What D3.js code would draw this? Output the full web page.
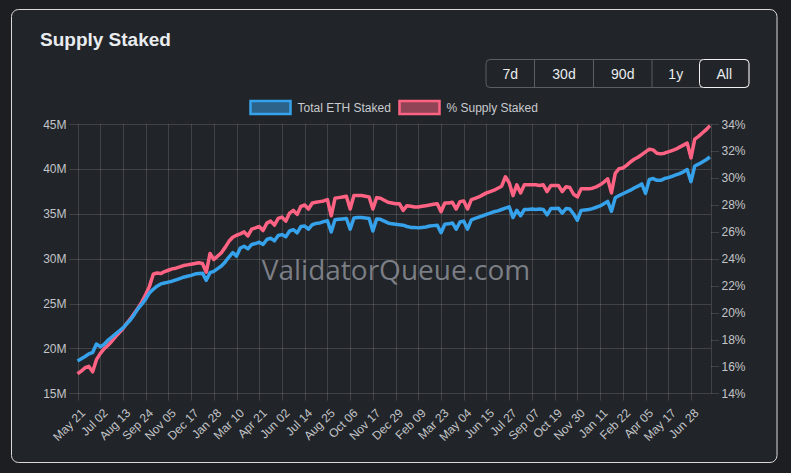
<!DOCTYPE html>
<html><head><meta charset="utf-8">
<script src="https://cdn.jsdelivr.net/npm/d3@7"></script>
<style>
html,body{margin:0;padding:0;background:#1c1e21;}
svg{display:block;}
</style></head><body>
<svg id="c" width="791" height="473"></svg>
<script>
// ---- data ----
const startDate = "2023-05-21";
const stepDays = 7;          // one value per week
const tickStepDays = 42;     // one x label every 42 days
const lastDay = 1171;
const seriesNames = ["Total ETH Staked", "% Supply Staked"];
const xTickLabels = ["May 21","Jul 02","Aug 13","Sep 24","Nov 05","Dec 17","Jan 28","Mar 10","Apr 21","Jun 02","Jul 14","Aug 25","Oct 06","Nov 17","Dec 29","Feb 09","Mar 23","May 04","Jun 15","Jul 27","Sep 07","Oct 19","Nov 30","Jan 11","Feb 22","Apr 05","May 17","Jun 28"];
const leftTicks = [15,20,25,30,35,40,45];
const rightTicks = [14,16,18,20,22,24,26,28,30,32,34];
const buttons = ["7d","30d","90d","1y","All"];
const ethStaked = [
18.6,18.85,19.1,19.4,19.55,20.5,20.2,20.45,20.9,21.25,
21.6,21.95,22.3,22.75,23.2,23.8,24.45,24.95,25.5,26.2,
26.6,26.95,27.2,27.3,27.4,27.5,27.65,27.8,27.95,28.05,
28.15,28.3,28.35,28.4,27.6,28.45,28.6,28.9,29.2,29.65,
30.2,30.7,30.3,31.2,31.4,31.1,31.6,31.7,31.85,31.6,
32.15,32.3,32.0,32.6,32.7,32.45,33.1,33.25,32.9,33.6,
33.65,33.3,33.8,33.95,34.0,34.15,34.25,33.0,34.35,34.4,
34.45,34.5,33.3,34.55,34.6,34.6,34.55,34.5,33.1,34.45,
34.4,34.2,34.0,33.9,33.85,33.8,33.75,33.6,33.5,33.5,
33.45,33.5,33.55,33.65,33.7,33.75,32.9,33.85,33.9,34.0,
33.3,34.1,34.2,33.3,34.35,34.5,34.65,34.8,34.95,35.1,
35.25,35.35,35.5,35.65,35.8,34.6,35.4,34.8,35.5,35.5,
35.55,35.5,35.55,35.5,34.9,35.6,35.6,35.65,35.1,35.6,
35.55,35.0,34.3,35.4,35.45,35.5,35.6,35.75,35.9,36.15,
36.4,35.3,36.8,37.05,37.25,37.45,37.65,37.9,38.1,38.35,
37.3,38.85,38.95,38.75,38.75,38.95,39.05,39.2,39.35,39.5,
39.7,39.95,38.6,40.35,40.55,40.8,41.05,41.35];
const supplyPct = [
15.45,15.65,15.9,16.0,15.6,16.5,16.95,17.3,17.55,17.85,
18.2,18.5,18.8,19.2,19.55,19.95,20.35,20.8,21.35,21.95,
22.85,22.95,22.9,23.05,23.15,23.25,23.3,23.4,23.5,23.55,
23.6,23.65,23.7,23.65,23.0,24.4,23.95,24.2,24.45,24.85,
25.3,25.6,25.75,25.85,26.0,25.7,26.2,26.3,26.4,26.1,
26.65,26.8,26.5,27.0,27.1,26.8,27.4,27.6,27.3,27.9,
28.0,27.7,28.15,28.2,28.25,28.3,28.4,27.2,28.5,28.55,
28.6,28.65,27.7,28.7,28.7,28.7,28.65,28.6,27.7,28.55,
28.5,28.35,28.2,28.15,28.1,28.1,27.6,27.95,27.9,27.85,
27.85,27.9,27.95,28.0,28.05,28.1,27.5,28.15,28.15,28.2,
27.7,28.25,28.3,27.7,28.4,28.5,28.6,28.75,28.9,29.0,
29.1,29.25,29.4,30.1,29.65,28.7,29.5,28.9,29.5,29.5,
29.5,29.5,29.45,29.5,29.0,29.45,29.45,29.45,29.0,29.35,
29.3,28.8,28.6,29.2,29.2,29.2,29.25,29.35,29.5,29.7,
29.95,28.9,30.35,30.7,30.75,30.95,31.2,31.4,31.55,31.75,
31.95,32.15,32.1,31.85,31.8,31.85,31.95,32.05,32.15,32.3,
32.45,32.6,31.5,32.9,33.1,33.35,33.6,33.9];

// ---- drawing ----
const FONT = "'Liberation Sans', Arial, sans-serif";
const svg = d3.select("#c");
const start = d3.utcParse("%Y-%m-%d")(startDate);
const dayOff = n => d3.utcDay.offset(start, n);

const plot = {left: 77.5, right: 711, top: 124.3, bottom: 393.3};
const x = d3.scaleUtc().domain([start, dayOff(lastDay)]).range([plot.left, plot.right]);
const yL = d3.scaleLinear().domain([15, 45]).range([plot.bottom, plot.top]);
const yR = d3.scaleLinear().domain([14, 34]).range([plot.bottom, plot.top]);

// card
svg.append("rect").attr("x",11.5).attr("y",9.5).attr("width",765.5).attr("height",453)
  .attr("rx",7).attr("fill","#212428").attr("stroke","#d8d8d8").attr("stroke-width",1);

svg.append("text").attr("x",40).attr("y",46).text("Supply Staked")
  .attr("font-family",FONT).attr("font-size",19).attr("font-weight","bold").attr("fill","#e9ecef");

// range buttons
const bx = d3.scaleOrdinal().domain(buttons).range([486, 534.5, 593.5, 652, 699.5]);
const bw = d3.scaleOrdinal().domain(buttons).range([48.5, 59, 58.5, 47.5, 49.5]);
const bg = svg.append("g");
bg.append("rect").attr("x",486).attr("y",59.5).attr("width",263).attr("height",28).attr("rx",4)
  .attr("fill","none").attr("stroke","#5b5f64");
buttons.forEach((b,i)=>{
  if(i>0 && b!=="All") bg.append("line").attr("x1",bx(b)).attr("x2",bx(b)).attr("y1",59.5).attr("y2",87.5).attr("stroke","#5b5f64");
  if(b==="All") bg.append("rect").attr("x",bx(b)).attr("y",59.5).attr("width",bw(b)).attr("height",28).attr("rx",4)
     .attr("fill","none").attr("stroke","#f0f0f0");
  bg.append("text").attr("x",bx(b)+bw(b)/2).attr("y",78.5).attr("text-anchor","middle").text(b)
    .attr("font-family",FONT).attr("font-size",14).attr("fill","#e9ecef");
});

// legend
const colors = ["#36a2eb","#ff6384"];
const fills = ["rgba(54,162,235,0.5)","rgba(255,99,132,0.5)"];
const legX = [250.5, 399.5];
seriesNames.forEach((n,i)=>{
  svg.append("rect").attr("x",legX[i]).attr("y",101).attr("width",40).attr("height",13)
    .attr("fill",fills[i]).attr("stroke",colors[i]).attr("stroke-width",2.5);
  svg.append("text").attr("x",legX[i]+47).attr("y",111.5).text(n)
    .attr("font-family",FONT).attr("font-size",12).attr("fill","#c9cbcf");
});

const gridColor = "rgba(255,255,255,0.14)";
const txtColor = "#c3c5c8";

// vertical grid + x tick marks
const xTicks = xTickLabels.map((l,i)=>dayOff(i*tickStepDays));
svg.append("g").selectAll("line").data(xTicks).join("line")
  .attr("x1",d=>Math.round(x(d))+0.5).attr("x2",d=>Math.round(x(d))+0.5)
  .attr("y1",plot.top).attr("y2",400.5).attr("stroke",gridColor);
// horizontal grid + left tick marks
svg.append("g").selectAll("line").data(leftTicks).join("line")
  .attr("x1",69.5).attr("x2",plot.right)
  .attr("y1",d=>Math.round(yL(d))+0.5).attr("y2",d=>Math.round(yL(d))+0.5).attr("stroke",gridColor);
// right axis line + ticks
svg.append("line").attr("x1",plot.right+0.5).attr("x2",plot.right+0.5).attr("y1",plot.top).attr("y2",plot.bottom)
  .attr("stroke",gridColor);
svg.append("g").selectAll("line").data(rightTicks).join("line")
  .attr("x1",plot.right).attr("x2",plot.right+8)
  .attr("y1",d=>Math.round(yR(d))+0.5).attr("y2",d=>Math.round(yR(d))+0.5).attr("stroke",gridColor);

// watermark
svg.append("text").attr("x",396).attr("y",280).attr("text-anchor","middle").text("ValidatorQueue.com")
  .attr("font-family","'Open Sans', 'Noto Sans', sans-serif").attr("font-size",28)
  .attr("fill","#8c8f97").attr("fill-opacity",0.85);

// left labels
svg.append("g").selectAll("text").data(leftTicks).join("text")
  .attr("x",66.5).attr("y",d=>yL(d)).attr("dy","0.35em").attr("text-anchor","end").text(d=>d+"M")
  .attr("font-family",FONT).attr("font-size",12).attr("fill",txtColor);
// right labels
svg.append("g").selectAll("text").data(rightTicks).join("text")
  .attr("x",721.5).attr("y",d=>yR(d)).attr("dy","0.35em").text(d=>d+"%")
  .attr("font-family",FONT).attr("font-size",12).attr("fill",txtColor);
// x labels
svg.append("g").selectAll("text").data(xTicks).join("text")
  .attr("transform",d=>`translate(${x(d)+2},407.5) rotate(-45)`)
  .attr("dy","0.75em").attr("text-anchor","end").text((d,i)=>xTickLabels[i])
  .attr("font-family",FONT).attr("font-size",12).attr("fill",txtColor);

// lines
const lineL = d3.line().x((d,i)=>x(dayOff(i*stepDays))).y(d=>yL(d));
const lineR = d3.line().x((d,i)=>x(dayOff(i*stepDays))).y(d=>yR(d));
svg.append("path").datum(supplyPct).attr("d",lineR).attr("fill","none")
  .attr("stroke",colors[1]).attr("stroke-width",3.5).attr("stroke-linejoin","round");
svg.append("path").datum(ethStaked).attr("d",lineL).attr("fill","none")
  .attr("stroke",colors[0]).attr("stroke-width",3.5).attr("stroke-linejoin","round");
</script>
</body></html>
